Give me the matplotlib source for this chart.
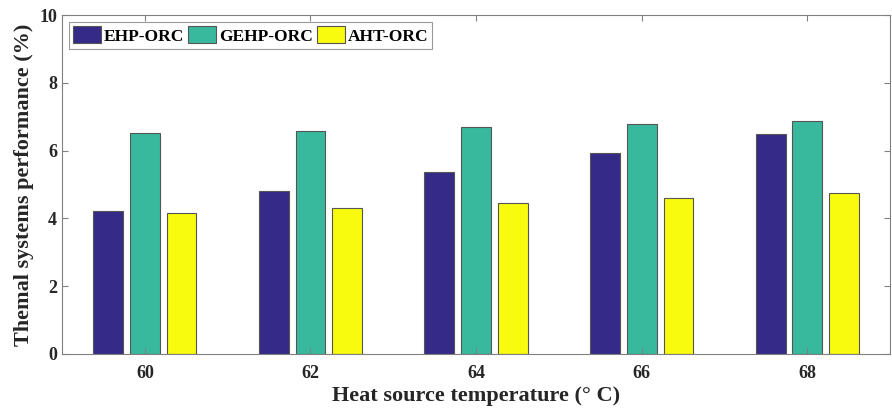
import numpy as np
import matplotlib.pyplot as plt

temps = ['60', '62', '64', '66', '68']
ehp_orc = [4.22, 4.82, 5.37, 5.94, 6.48]
gehp_orc = [6.52, 6.59, 6.70, 6.79, 6.89]
aht_orc = [4.15, 4.30, 4.45, 4.61, 4.76]

series = [('EHP-ORC', ehp_orc, '#352a87'),
          ('GEHP-ORC', gehp_orc, '#38b99e'),
          ('AHT-ORC', aht_orc, '#f9fb0e')]

plt.rcParams['font.family'] = 'Liberation Serif'
plt.rcParams['font.weight'] = 'bold'

fig = plt.figure(figsize=(8.92, 4.09), dpi=100)
ax = fig.add_axes([0.0695, 0.1345, 0.9285, 0.8285])

x = np.arange(1, len(temps) + 1)
width = 0.18
step = 0.222
for i, (name, vals, col) in enumerate(series):
    ax.bar(x + (i - 1) * step, vals, width, color=col, edgecolor='#555555',
           linewidth=0.8, label=name)

ax.set_xlim(0.5, 5.5)
ax.set_ylim(0, 10)
ax.set_xticks(x)
ax.set_xticklabels(temps)
ax.set_yticks(range(0, 11, 2))
ax.tick_params(axis='both', direction='in', top=True, right=True,
               labelsize=13, colors='#808080', labelcolor='#262626', length=4)
ax.tick_params(axis='x', pad=8)
for s in ax.spines.values():
    s.set_color('#808080')

ax.set_xlabel('Heat source temperature (° C)', fontsize=16, fontweight='bold',
              color='#262626', labelpad=3)
ax.set_ylabel('Themal systems performance (%)', fontsize=16, fontweight='bold', color='#262626')

leg = ax.legend(loc='upper left', ncol=3, fontsize=12.5, frameon=True, fancybox=False,
                borderpad=0.25, handlelength=1.6, handleheight=1.1,
                handletextpad=0.15, columnspacing=0.25, borderaxespad=0.4,
                edgecolor='#808080')
leg.get_frame().set_linewidth(0.8)

fig.savefig('out.png', dpi=100)
